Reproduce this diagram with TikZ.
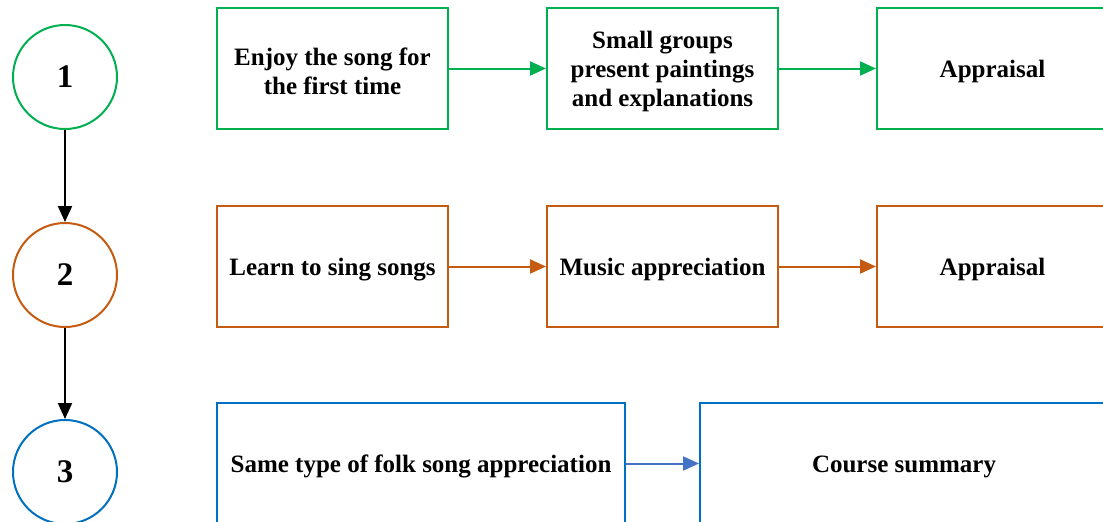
\documentclass[tikz,border=0pt]{standalone}
\usepackage{fontspec}
\setmainfont{Liberation Serif}
\usetikzlibrary{arrows.meta}
\definecolor{cgreen}{HTML}{00B050}
\definecolor{corange}{HTML}{C55A11}
\definecolor{cblue}{HTML}{0070C0}
\definecolor{cbluearrow}{HTML}{4472C4}
\begin{document}
\begin{tikzpicture}[x=1pt,y=-1pt,
  txt/.style={font=\fontsize{25}{29}\selectfont\bfseries, align=center, text=black, inner sep=0pt},
  stepbox/.style={draw, line width=2pt, rectangle, minimum height=121pt, inner sep=0pt},
  numcirc/.style={circle, draw, line width=2pt, minimum size=104pt, inner sep=0pt, font=\fontsize{33}{36}\selectfont\bfseries},
  flow/.style={line width=2pt, -{Triangle[length=16pt,width=14pt]}},
]
\useasboundingbox (0,0) rectangle (1103,522);
\clip (0,0) rectangle (1103,522);
% circles
\node[numcirc, draw=cgreen] (c1) at (65,77) {1};
\node[numcirc, draw=corange] (c2) at (65,275) {2};
\node[numcirc, draw=cblue] (c3) at (65,472) {3};
\draw[flow, black] (c1) -- (c2);
\draw[flow, black] (c2) -- (c3);
% row 1
\node[stepbox, draw=cgreen, minimum width=231pt] (a1) at (332.5,68.5) {};
\node[stepbox, draw=cgreen, minimum width=231pt] (b1) at (662.5,68.5) {};
\node[stepbox, draw=cgreen, minimum width=231pt] (d1) at (992.5,68.5) {};
\node[txt] (a1t) at ([yshift=-3pt]a1.center) {Enjoy the song for\\the first time};
\node[txt] (b1t) at ([yshift=-3pt]b1.center) {Small groups\\present paintings\\and explanations};
\node[txt] (d1t) at ([yshift=-3pt]d1.center) {Appraisal};
\draw[flow, cgreen] (a1) -- (b1);
\draw[flow, cgreen] (b1) -- (d1);
% row 2
\node[stepbox, draw=corange, minimum width=231pt] (a2) at (332.5,266.5) {};
\node[stepbox, draw=corange, minimum width=231pt] (b2) at (662.5,266.5) {};
\node[stepbox, draw=corange, minimum width=231pt] (d2) at (992.5,266.5) {};
\node[txt] (a2t) at ([yshift=-3pt]a2.center) {Learn to sing songs};
\node[txt] (b2t) at ([yshift=-3pt]b2.center) {Music appreciation};
\node[txt] (d2t) at ([yshift=-3pt]d2.center) {Appraisal};
\draw[flow, corange] (a2) -- (b2);
\draw[flow, corange] (b2) -- (d2);
% row 3
\node[stepbox, draw=cblue, minimum width=408pt] (a3) at (421,463.5) {};
\node[stepbox, draw=cblue, minimum width=408pt] (b3) at (904,463.5) {};
\node[txt] (a3t) at ([yshift=-3pt]a3.center) {Same type of folk song appreciation};
\node[txt] (b3t) at ([yshift=-3pt]b3.center) {Course summary};
\draw[flow, cbluearrow] (a3) -- (b3);
\end{tikzpicture}
\end{document}
